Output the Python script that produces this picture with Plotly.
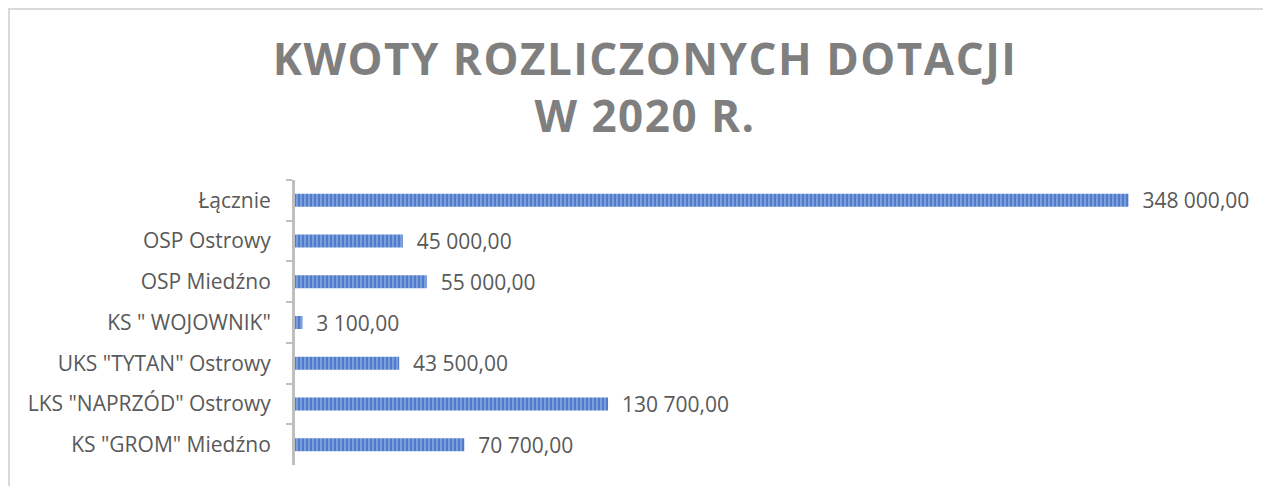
import plotly.graph_objects as go

categories = ["Łącznie", "OSP Ostrowy", "OSP Miedźno", 'KS " WOJOWNIK"',
              'UKS "TYTAN" Ostrowy', 'LKS "NAPRZÓD" Ostrowy', 'KS "GROM" Miedźno']
values = [348000, 45000, 55000, 3100, 43500, 130700, 70700]
value_labels = ["348 000,00", "45 000,00", "55 000,00", "3 100,00",
                "43 500,00", "130 700,00", "70 700,00"]

# page body has an 8px margin; figure coords = screen coords - 8
OFF = 8
W, H = 1263, 478
L, R, T, B = 287, 18, 172, 21
pw = W - L - R
ph = H - T - B

def px_x(x):
    return (x - OFF - L) / pw

def px_y(y):
    return (H - B - (y - OFF)) / ph

FONT = "Open Sans"
GRAY = "#595959"

fig = go.Figure(go.Bar(
    y=categories, x=values, orientation="h",
    text=["  " + v for v in value_labels], textposition="outside",
    constraintext="none",
    textfont=dict(family=FONT, size=21, color=GRAY),
    cliponaxis=False,
    marker=dict(color="#4F7CCB", line=dict(width=0),
                pattern=dict(shape="|", fgcolor="#B4C7EC", bgcolor="#4F7CCB",
                             size=4, solidity=0.45, fillmode="overlay")),
))

title_text = ('<span style="letter-spacing:1.5px">KWOTY ROZLICZONYCH DOTACJI</span><br>'
              '<span style="letter-spacing:1.5px">W 2020 R.</span>')

fig.update_layout(
    width=W, height=H,
    margin=dict(l=L, r=R, t=T, b=B),
    paper_bgcolor="white", plot_bgcolor="white",
    bargap=0.68,
    showlegend=False,
    title=dict(text=title_text,
               x=px_x(645), xref="paper", xanchor="center",
               y=1 - 67 / H, yanchor="middle",
               font=dict(family=FONT, size=44, color="#7F7F7F", weight="bold")),
    xaxis=dict(range=[0, 400000], showticklabels=False, showgrid=False,
               zeroline=False, showline=False, ticks=""),
    yaxis=dict(autorange="reversed", showline=True, linecolor="#BFBFBF", linewidth=3,
               ticks="outside", tickson="boundaries", ticklen=6, tickwidth=2,
               tickcolor="#BFBFBF", showgrid=False,
               tickfont=dict(family=FONT, size=21, color=GRAY),
               ticklabelstandoff=17),
    shapes=[dict(type="rect", xref="paper", yref="paper",
                 x0=px_x(9), x1=px_x(W + 40), y0=px_y(H + 40), y1=px_y(9),
                 line=dict(color="#D9D9D9", width=2), fillcolor="rgba(0,0,0,0)",
                 layer="below")],
)

fig.write_html("out.html")
